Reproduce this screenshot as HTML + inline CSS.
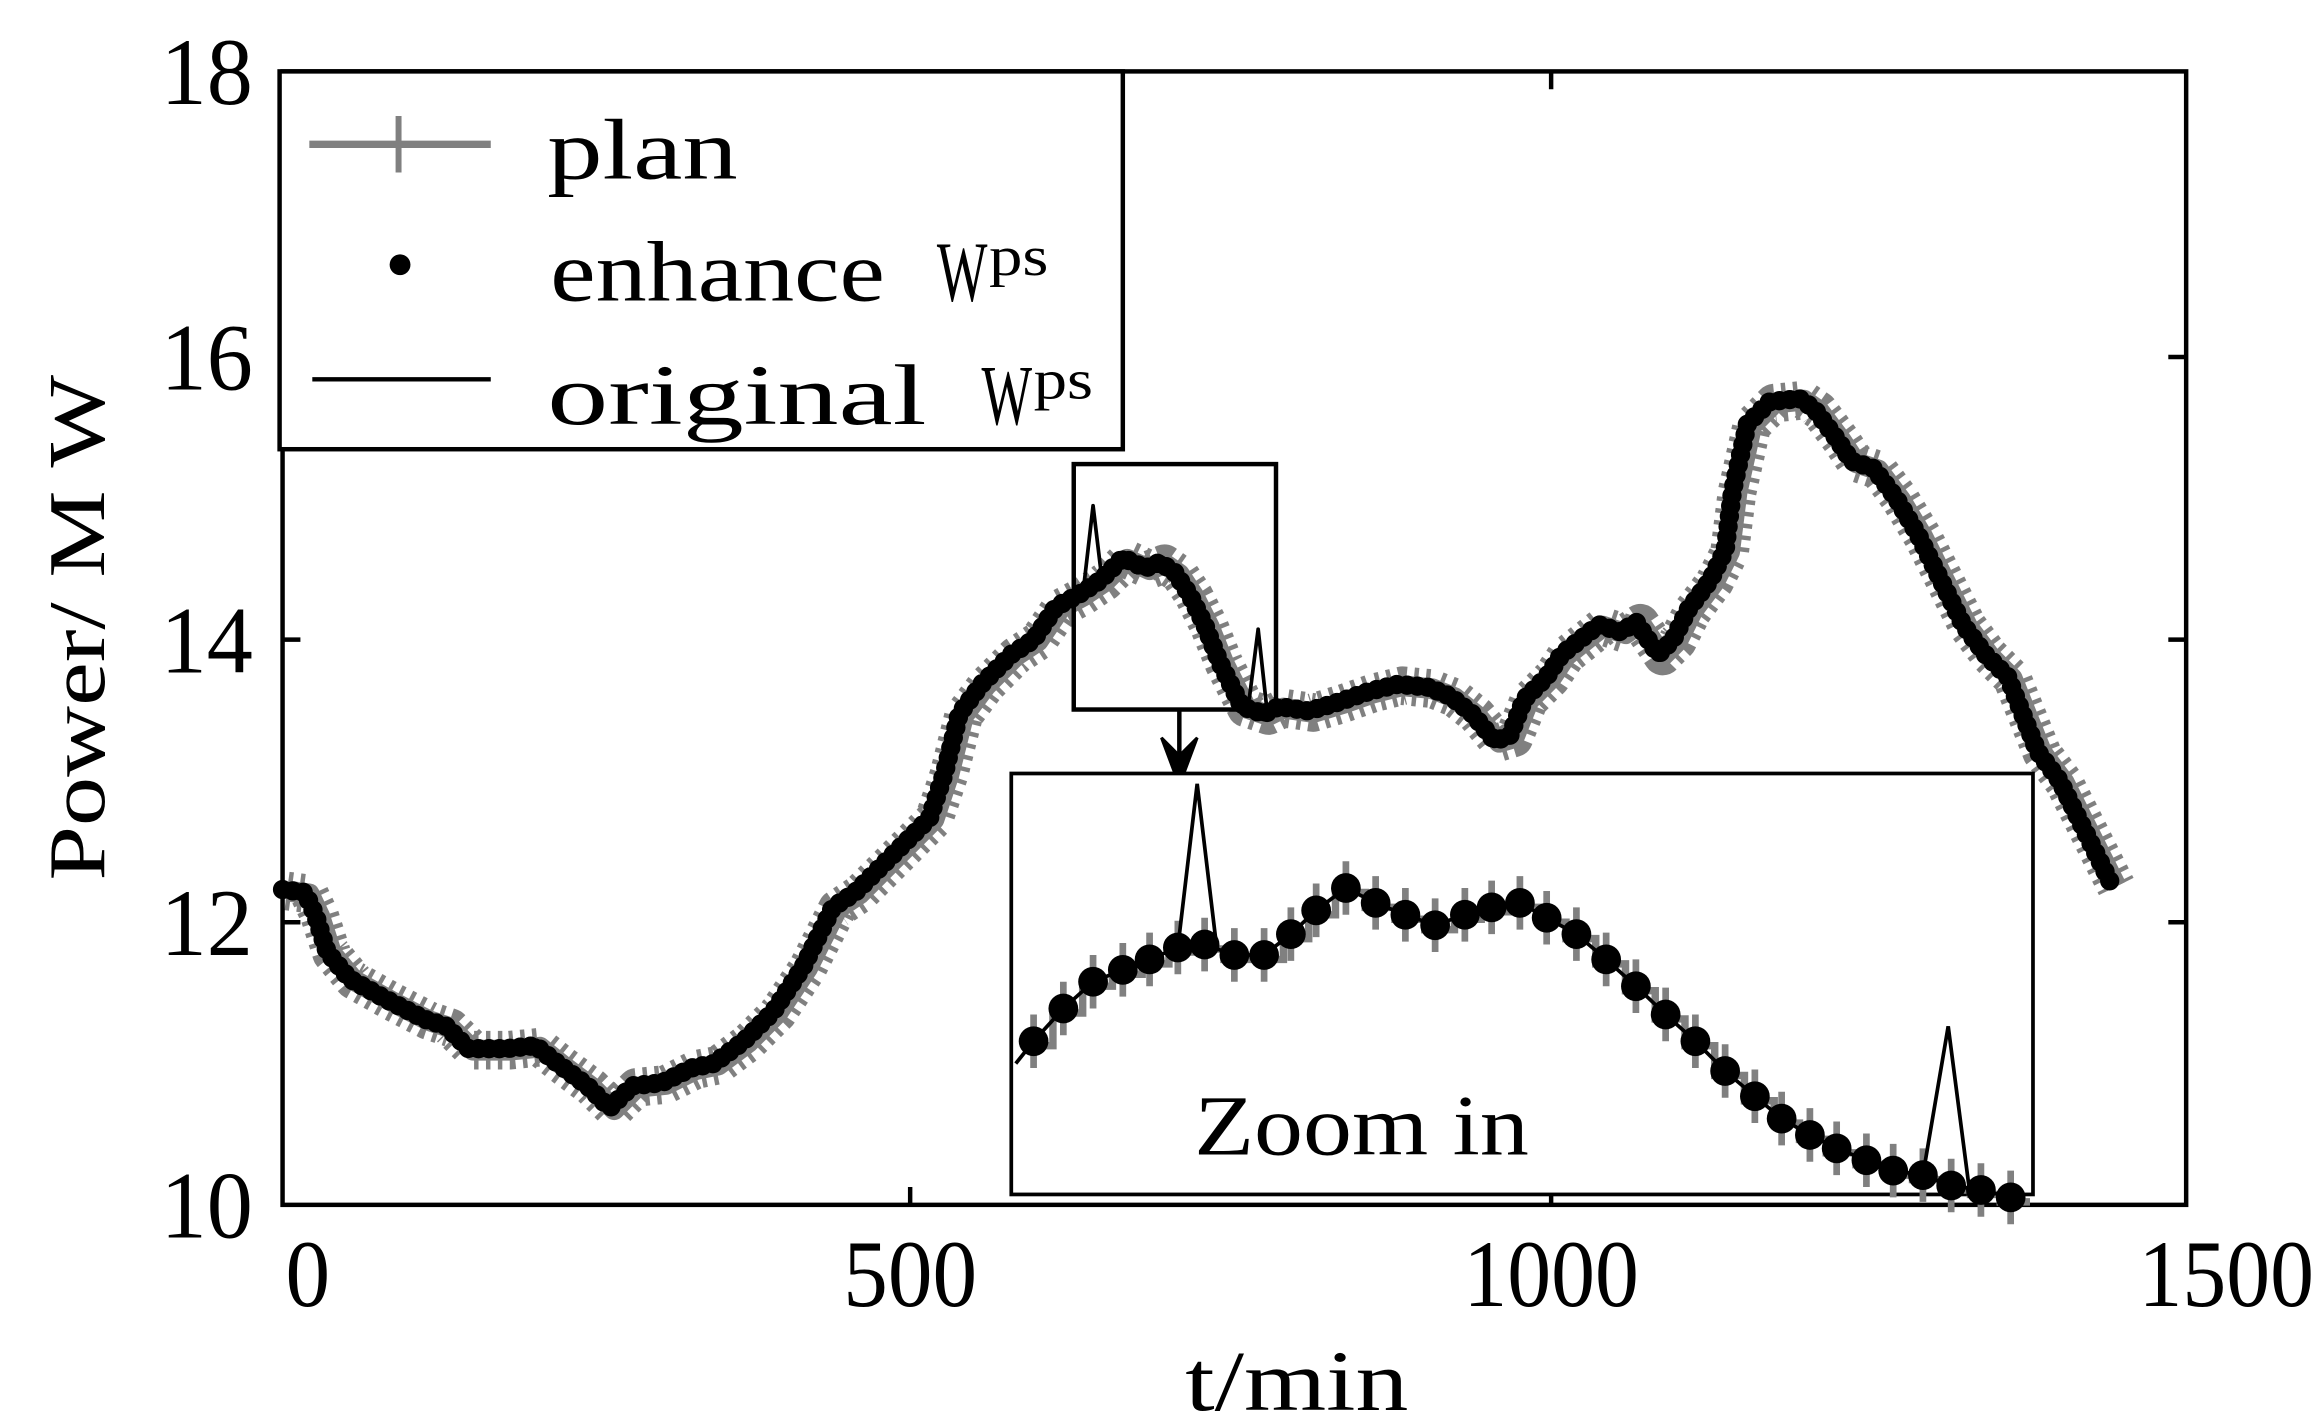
<!DOCTYPE html>
<html><head><meta charset="utf-8"><style>
html,body{margin:0;padding:0;background:#fff;}
svg{display:block;}
text{font-family:"Liberation Serif",serif;fill:#000;}
</style></head><body>
<svg width="2320" height="1425" viewBox="0 0 1560 958" preserveAspectRatio="none" xmlns="http://www.w3.org/2000/svg">
<rect width="1560" height="958" fill="#fff"/>
<g fill="none" stroke-linejoin="round">
<polyline transform="translate(3,1)" stroke="#808080" stroke-width="26" stroke-dasharray="3 5" points="190,598 205,600 212,615 220,640 235,658 260,672 285,685 300,690 315,705 340,705 360,703 375,715 395,730 410,745 425,730 445,728 465,718 480,715 500,700 520,680 540,650 560,610 575,600 590,585 610,565 625,550 635,520 645,480 660,460 680,440 695,430 710,408 725,400 740,390 755,375 770,382 780,378 790,385 800,400 810,420 820,445 835,475 850,480 860,475 880,478 900,472 920,465 940,460 960,462 975,468 990,480 1005,498 1015,495 1025,470 1040,455 1050,440 1065,428 1075,420 1090,425 1100,418 1115,440 1125,430 1135,410 1150,390 1160,370 1165,330 1175,285 1190,270 1210,268 1220,275 1235,295 1245,310 1260,315 1275,335 1290,360 1305,390 1320,420 1335,440 1350,455 1360,480 1370,505 1385,525 1400,555 1410,575 1420,595"/>
<polyline transform="translate(3,1)" stroke="#808080" stroke-width="14" points="190,598 205,600 212,615 220,640 235,658 260,672 285,685 300,690 315,705 340,705 360,703 375,715 395,730 410,745 425,730 445,728 465,718 480,715 500,700 520,680 540,650 560,610 575,600 590,585 610,565 625,550 635,520 645,480 660,460 680,440 695,430 710,408 725,400 740,390 755,375 770,382 780,378 790,385 800,400 810,420 820,445 835,475 850,480 860,475 880,478 900,472 920,465 940,460 960,462 975,468 990,480 1005,498 1015,495 1025,470 1040,455 1050,440 1065,428 1075,420 1090,425 1100,418 1115,440 1125,430 1135,410 1150,390 1160,370 1165,330 1175,285 1190,270 1210,268 1220,275 1235,295 1245,310 1260,315 1275,335 1290,360 1305,390 1320,420 1335,440 1350,455 1360,480 1370,505 1385,525 1400,555 1410,575 1420,595"/>
<polyline stroke="#000" stroke-width="10" points="190,598 205,600 212,615 220,640 235,658 260,672 285,685 300,690 315,705 340,705 360,703 375,715 395,730 410,745 425,730 445,728 465,718 480,715 500,700 520,680 540,650 560,610 575,600 590,585 610,565 625,550 635,520 645,480 660,460 680,440 695,430 710,408 725,400 740,390 755,375 770,382 780,378 790,385 800,400 810,420 820,445 835,475 850,480 860,475 880,478 900,472 920,465 940,460 960,462 975,468 990,480 1005,498 1015,495 1025,470 1040,455 1050,440 1065,428 1075,420 1090,425 1100,418 1115,440 1125,430 1135,410 1150,390 1160,370 1165,330 1175,285 1190,270 1210,268 1220,275 1235,295 1245,310 1260,315 1275,335 1290,360 1305,390 1320,420 1335,440 1350,455 1360,480 1370,505 1385,525 1400,555 1410,575 1420,595"/>
<polyline stroke="#000" stroke-width="13" stroke-linecap="round" stroke-dasharray="0 7" points="190,598 205,600 212,615 220,640 235,658 260,672 285,685 300,690 315,705 340,705 360,703 375,715 395,730 410,745 425,730 445,728 465,718 480,715 500,700 520,680 540,650 560,610 575,600 590,585 610,565 625,550 635,520 645,480 660,460 680,440 695,430 710,408 725,400 740,390 755,375 770,382 780,378 790,385 800,400 810,420 820,445 835,475 850,480 860,475 880,478 900,472 920,465 940,460 960,462 975,468 990,480 1005,498 1015,495 1025,470 1040,455 1050,440 1065,428 1075,420 1090,425 1100,418 1115,440 1125,430 1135,410 1150,390 1160,370 1165,330 1175,285 1190,270 1210,268 1220,275 1235,295 1245,310 1260,315 1275,335 1290,360 1305,390 1320,420 1335,440 1350,455 1360,480 1370,505 1385,525 1400,555 1410,575 1420,595"/>
<polyline stroke="#000" stroke-width="2.5" points="729,392 735,340 741,390"/>
<polyline stroke="#000" stroke-width="2.5" points="840,470 846,423 852,478"/>
</g>
<rect x="190" y="48" width="1280" height="762" fill="none" stroke="#000" stroke-width="3"/>
<g stroke="#000" stroke-width="3">
<line x1="612" y1="810" x2="612" y2="798"/><line x1="1043" y1="810" x2="1043" y2="798"/>
<line x1="612" y1="48" x2="612" y2="60"/><line x1="1043" y1="48" x2="1043" y2="60"/>
<line x1="190" y1="240" x2="202" y2="240"/><line x1="190" y1="430" x2="202" y2="430"/><line x1="190" y1="620" x2="202" y2="620"/>
<line x1="1470" y1="240" x2="1458" y2="240"/><line x1="1470" y1="430" x2="1458" y2="430"/><line x1="1470" y1="620" x2="1458" y2="620"/>
</g>
<g font-size="64">
<text x="170" y="70" text-anchor="end" textLength="62" lengthAdjust="spacingAndGlyphs">18</text>
<text x="170" y="262" text-anchor="end" textLength="62" lengthAdjust="spacingAndGlyphs">16</text>
<text x="170" y="452" text-anchor="end" textLength="62" lengthAdjust="spacingAndGlyphs">14</text>
<text x="170" y="642" text-anchor="end" textLength="62" lengthAdjust="spacingAndGlyphs">12</text>
<text x="170" y="832" text-anchor="end" textLength="62" lengthAdjust="spacingAndGlyphs">10</text>
<text x="207" y="878" text-anchor="middle" textLength="30" lengthAdjust="spacingAndGlyphs">0</text>
<text x="612" y="878" text-anchor="middle" textLength="90" lengthAdjust="spacingAndGlyphs">500</text>
<text x="1043" y="878" text-anchor="middle" textLength="118" lengthAdjust="spacingAndGlyphs">1000</text>
<text x="1497" y="878" text-anchor="middle" textLength="118" lengthAdjust="spacingAndGlyphs">1500</text>
</g>
<text x="872" y="948" font-size="58" text-anchor="middle" textLength="150" lengthAdjust="spacingAndGlyphs">t/min</text>
<text x="0" y="0" font-size="54" text-anchor="middle" transform="translate(70,422) rotate(-90)" textLength="340" lengthAdjust="spacingAndGlyphs">Power/ M W</text>
<rect x="188" y="48" width="567" height="254" fill="#fff" stroke="#000" stroke-width="3"/>
<line x1="208" y1="97" x2="330" y2="97" stroke="#808080" stroke-width="5"/>
<line x1="268" y1="78" x2="268" y2="116" stroke="#808080" stroke-width="4"/>
<circle cx="269" cy="178" r="7" fill="#000"/>
<line x1="210" y1="255" x2="330" y2="255" stroke="#000" stroke-width="3"/>
<g font-size="58">
<text x="368" y="120" textLength="128" lengthAdjust="spacingAndGlyphs">plan</text>
<text x="370" y="202" textLength="225" lengthAdjust="spacingAndGlyphs">enhance</text>
<text x="630" y="202" textLength="34" lengthAdjust="spacingAndGlyphs">W</text>
<text x="665" y="185" font-size="38" textLength="40" lengthAdjust="spacingAndGlyphs">ps</text>
<text x="368" y="285" textLength="255" lengthAdjust="spacingAndGlyphs">original</text>
<text x="660" y="285" textLength="34" lengthAdjust="spacingAndGlyphs">W</text>
<text x="695" y="268" font-size="38" textLength="40" lengthAdjust="spacingAndGlyphs">ps</text>
</g>
<rect x="722" y="312" width="136" height="165" fill="none" stroke="#000" stroke-width="3"/>
<line x1="793" y1="477" x2="793" y2="510" stroke="#000" stroke-width="3"/>
<path d="M781 496 L793 528 L805 496 L793 508 Z" fill="#000" stroke="#000" stroke-width="2"/>
<rect x="680" y="520" width="687" height="283" fill="#fff" stroke="#000" stroke-width="2.5"/>
<path fill="none" stroke="#808080" stroke-width="5" transform="translate(3,3)" d="M685,700 H705 V678 H725 V660 H745 V652 H765 V645 H783 V637 H802 V635 H820 V642 H840 V642 H860 V628 H877 V612 H895 V597 H915 V607 H935 V615 H955 V622 H975 V615 H993 V610 H1012 V607 H1032 V617 H1050 V628 H1070 V645 H1090 V663 H1110 V682 H1130 V700 H1150 V720 H1170 V737 H1190 V752 H1207 V763 H1225 V772 H1245 V780 H1265 V787 H1283 V790 H1303 V797 H1322 V800 H1342 V805 H1362"/>
<path fill="none" stroke="#808080" stroke-width="4.5" d="M695,682v36M715,660v36M735,642v36M755,634v36M773,627v36M792,619v36M810,617v36M830,624v36M850,624v36M868,610v36M885,594v36M905,579v36M925,589v36M945,597v36M965,604v36M985,597v36M1003,592v36M1022,589v36M1040,599v36M1060,610v36M1080,627v36M1100,645v36M1120,664v36M1140,682v36M1160,702v36M1180,719v36M1198,734v36M1217,745v36M1235,754v36M1255,762v36M1273,769v36M1293,772v36M1312,779v36M1332,782v36M1352,787v36"/>
<polyline fill="none" stroke="#000" stroke-width="2.5" points="683,715 695,700 715,678 735,660 755,652 773,645 792,637 810,635 830,642 850,642 868,628 885,612 905,597 925,607 945,615 965,622 985,615 1003,610 1022,607 1040,617 1060,628 1080,645 1100,663 1120,682 1140,700 1160,720 1180,737 1198,752 1217,763 1235,772 1255,780 1273,787 1293,790 1312,797 1332,800 1352,805"/>
<polyline fill="none" stroke="#000" stroke-width="2.5" points="792,637 805,527 818,636"/>
<polyline fill="none" stroke="#000" stroke-width="2.5" points="1293,790 1310,690 1324,798"/>
<g fill="#000">
<circle cx="695" cy="700" r="10"/><circle cx="715" cy="678" r="10"/><circle cx="735" cy="660" r="10"/><circle cx="755" cy="652" r="10"/><circle cx="773" cy="645" r="10"/><circle cx="792" cy="637" r="10"/><circle cx="810" cy="635" r="10"/><circle cx="830" cy="642" r="10"/><circle cx="850" cy="642" r="10"/><circle cx="868" cy="628" r="10"/><circle cx="885" cy="612" r="10"/><circle cx="905" cy="597" r="10"/><circle cx="925" cy="607" r="10"/><circle cx="945" cy="615" r="10"/><circle cx="965" cy="622" r="10"/><circle cx="985" cy="615" r="10"/><circle cx="1003" cy="610" r="10"/><circle cx="1022" cy="607" r="10"/><circle cx="1040" cy="617" r="10"/><circle cx="1060" cy="628" r="10"/><circle cx="1080" cy="645" r="10"/><circle cx="1100" cy="663" r="10"/><circle cx="1120" cy="682" r="10"/><circle cx="1140" cy="700" r="10"/><circle cx="1160" cy="720" r="10"/><circle cx="1180" cy="737" r="10"/><circle cx="1198" cy="752" r="10"/><circle cx="1217" cy="763" r="10"/><circle cx="1235" cy="772" r="10"/><circle cx="1255" cy="780" r="10"/><circle cx="1273" cy="787" r="10"/><circle cx="1293" cy="790" r="10"/><circle cx="1312" cy="797" r="10"/><circle cx="1332" cy="800" r="10"/><circle cx="1352" cy="805" r="10"/>
</g>
<text x="803" y="776" font-size="58" textLength="225" lengthAdjust="spacingAndGlyphs">Zoom in</text>
</svg>
</body></html>
